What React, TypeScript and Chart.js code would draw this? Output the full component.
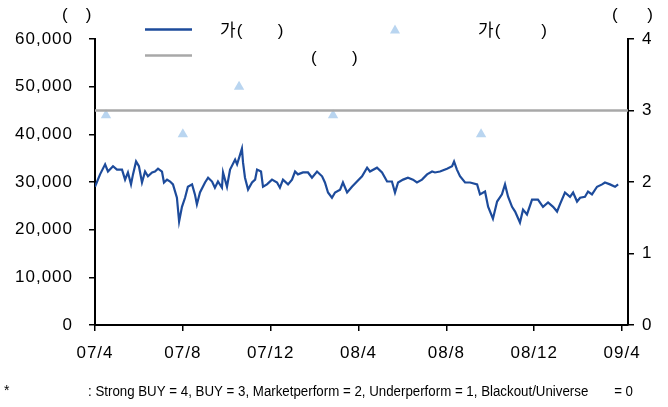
import { useEffect, useRef } from 'react';
import { Chart, registerables } from 'chart.js';

Chart.register(...registerables);

// x values are months since 2007/04
const priceMonths = [
  0.0, 0.23, 0.46, 0.59, 0.82, 1.0, 1.23, 1.37, 1.5, 1.64, 1.73, 1.87, 2.0, 2.14, 2.28, 2.41, 2.6, 2.73, 2.87, 3.05,
  3.14, 3.28, 3.42, 3.55, 3.73, 3.83, 3.96, 4.1, 4.23, 4.42, 4.55, 4.64, 4.78, 5.01, 5.15, 5.33, 5.46, 5.6, 5.78, 5.83,
  6.01, 6.15, 6.38, 6.47, 6.69, 6.74, 6.83, 6.97, 7.15, 7.29, 7.38, 7.56, 7.65, 7.83, 8.06, 8.29, 8.42, 8.56, 8.79, 8.97,
  9.11, 9.24, 9.47, 9.7, 9.88, 10.11, 10.34, 10.47, 10.61, 10.79, 10.93, 11.16, 11.29, 11.48, 11.7, 11.93, 12.16, 12.39,
  12.52, 12.84, 13.07, 13.3, 13.52, 13.66, 13.8, 14.03, 14.25, 14.48, 14.66, 14.89, 15.12, 15.35, 15.48, 15.71, 16.03,
  16.26, 16.35, 16.48, 16.62, 16.85, 17.08, 17.4, 17.53, 17.76, 17.9, 18.12, 18.31, 18.53, 18.67, 18.81, 18.99, 19.13,
  19.35, 19.49, 19.67, 19.9, 20.17, 20.4, 20.63, 20.86, 21.04, 21.17, 21.4, 21.63, 21.77, 21.95, 22.09, 22.31, 22.45,
  22.63, 22.86, 23.09, 23.22, 23.45, 23.68, 23.82,
];
const priceValues = [
  29000, 31600, 33700, 32200, 33300, 32600, 32600, 30500, 32000, 29500, 31600, 34300, 33300, 29900, 32200, 31200, 32000,
  32200, 32800, 32200, 29900, 30500, 30100, 29500, 26700, 21700, 24800, 26700, 29000, 29500, 27400, 25300, 27800, 29900,
  30900, 30100, 28800, 30100, 28800, 32000, 29000, 32600, 34700, 33700, 37000, 34100, 30900, 28400, 29900, 30500, 32600,
  32200, 29000, 29500, 30500, 29900, 28800, 30500, 29500, 30500, 32200, 31600, 32000, 32000, 30900, 32200, 31200, 29900,
  27800, 26700, 27800, 28400, 29900, 27800, 29000, 30100, 31200, 33000, 32200, 33000, 32000, 30100, 30100, 27800, 29900,
  30500, 30900, 30500, 29900, 30500, 31600, 32200, 32000, 32200, 32800, 33300, 34300, 32600, 31200, 29900, 29900, 29500,
  27400, 28000, 24800, 22300, 25900, 27400, 29500, 26900, 24800, 23800, 21500, 24200, 23200, 26300, 26300, 24800, 25700,
  24800, 23800, 25300, 27800, 26900, 27800, 25900, 26700, 26900, 28000, 27400, 29000, 29500, 29900, 29500, 29000, 29500,
];
const targetMonths = [0.5, 4.0, 6.56, 10.84, 17.58];
const targetValues = [44000, 40000, 50000, 44000, 40000];
const opinionMonths = [0, 24.27];
const opinionValues = [3, 3];
const xTickMonths = [0, 4, 8, 12, 16, 20, 24];
const xTickLabels = ['07/4', '07/8', '07/12', '08/4', '08/8', '08/12', '09/4'];
const leftTicks = [0, 10000, 20000, 30000, 40000, 50000, 60000];
const rightTicks = [0, 1, 2, 3, 4];

const FONT = '"Liberation Sans", Arial, "Noto Sans CJK KR", sans-serif';
const BLUE = '#1d4b9b';
const GRAY = '#a8a8a8';
const TRI = '#b9d5f0';

const spacing = {
  id: 'spacing',
  beforeUpdate(chart: any) {
    (chart.ctx as any).letterSpacing = '1px';
  },
  beforeDraw(chart: any) {
    (chart.ctx as any).letterSpacing = '1px';
  },
};

const overlay = {
  id: 'overlay',
  afterDraw(chart: any) {
    const ctx = chart.ctx as CanvasRenderingContext2D;
    ctx.save();
    (ctx as any).letterSpacing = '1px';
    ctx.fillStyle = '#000';
    ctx.textAlign = 'left';
    ctx.textBaseline = 'middle';
    ctx.font = '17px ' + FONT;
    // axis unit labels
    ctx.fillText('(   )', 62, 15);
    ctx.fillText('(     )', 612, 15);
    // legend
    ctx.lineWidth = 2.5;
    ctx.strokeStyle = BLUE;
    ctx.beginPath();
    ctx.moveTo(145, 29.5);
    ctx.lineTo(192, 29.5);
    ctx.stroke();
    ctx.strokeStyle = GRAY;
    ctx.beginPath();
    ctx.moveTo(145, 55.5);
    ctx.lineTo(192, 55.5);
    ctx.stroke();
    ctx.fillText('가(      )', 220, 31);
    ctx.fillText('(      )', 311, 58);
    ctx.fillStyle = TRI;
    ctx.beginPath();
    ctx.moveTo(395, 24.5);
    ctx.lineTo(400, 33.5);
    ctx.lineTo(390, 33.5);
    ctx.closePath();
    ctx.fill();
    ctx.fillStyle = '#000';
    ctx.fillText('가(       )', 478, 31);
    // footnote
    (ctx as any).letterSpacing = '0px';
    ctx.font = '14px ' + FONT;
    ctx.fillText('*', 4, 391);
    ctx.fillText(': Strong BUY = 4, BUY = 3, Marketperform = 2, Underperform = 1, Blackout/Universe       = 0', 88, 392, 545);
    ctx.restore();
  },
};

export default function App() {
  const ref = useRef<HTMLCanvasElement | null>(null);
  useEffect(() => {
    document.body.style.margin = '0';
    const canvas = ref.current!;
    const tickFont = { family: FONT, size: 17 };
    const gridOpts = { drawOnChartArea: false, drawTicks: true, tickLength: 6, color: '#000', lineWidth: 1.5 };
    const borderOpts = { display: true, color: '#000', width: 2 };
    const chart = new Chart(canvas, {
      type: 'line',
      data: {
        datasets: [
          {
            label: 'price',
            data: priceMonths.map((m, i) => ({ x: m, y: priceValues[i] })),
            borderColor: BLUE,
            borderWidth: 2.2,
            pointRadius: 0,
            tension: 0,
            yAxisID: 'y',
          },
          {
            label: 'opinion',
            data: opinionMonths.map((m, i) => ({ x: m, y: opinionValues[i] })),
            borderColor: GRAY,
            borderWidth: 2.5,
            pointRadius: 0,
            yAxisID: 'y2',
          },
          {
            label: 'target',
            data: targetMonths.map((m, i) => ({ x: m, y: targetValues[i] })),
            showLine: false,
            pointStyle: 'triangle',
            pointRadius: 6,
            pointBackgroundColor: TRI,
            pointBorderColor: TRI,
            pointBorderWidth: 0,
            yAxisID: 'y',
          },
        ],
      },
      options: {
        animation: false,
        responsive: false,
        devicePixelRatio: 1,
        layout: { padding: { top: 39, bottom: 0, left: 0, right: 0 } },
        plugins: { legend: { display: false }, tooltip: { enabled: false } },
        scales: {
          x: {
            type: 'linear',
            min: 0,
            max: 24.27,
            afterBuildTicks: (s: any) => {
              s.ticks = xTickMonths.map((v) => ({ value: v }));
            },
            afterFit: (s: any) => {
              s.height = 82;
            },
            ticks: {
              callback: (v: any) => {
                const i = xTickMonths.indexOf(Number(v));
                return i >= 0 ? xTickLabels[i] : '';
              },
              color: '#000',
              font: tickFont,
              padding: 12,
              maxRotation: 0,
              autoSkip: false,
            },
            grid: gridOpts,
            border: borderOpts,
          },
          y: {
            position: 'left',
            min: 0,
            max: 60000,
            afterBuildTicks: (s: any) => {
              s.ticks = leftTicks.map((v) => ({ value: v }));
            },
            afterFit: (s: any) => {
              s.width = 95;
            },
            ticks: {
              callback: (v: any) => Number(v).toLocaleString('en-US'),
              color: '#000',
              font: tickFont,
              padding: 16,
            },
            grid: gridOpts,
            border: borderOpts,
          },
          y2: {
            position: 'right',
            min: 0,
            max: 4,
            afterBuildTicks: (s: any) => {
              s.ticks = rightTicks.map((v) => ({ value: v }));
            },
            afterFit: (s: any) => {
              s.width = 40;
            },
            ticks: {
              color: '#000',
              font: tickFont,
              padding: 8,
            },
            grid: gridOpts,
            border: borderOpts,
          },
        },
      },
      plugins: [spacing, overlay],
    });
    return () => chart.destroy();
  }, []);
  return <canvas ref={ref} width={668} height={407} style={{ display: 'block', width: 668, height: 407 }} />;
}
